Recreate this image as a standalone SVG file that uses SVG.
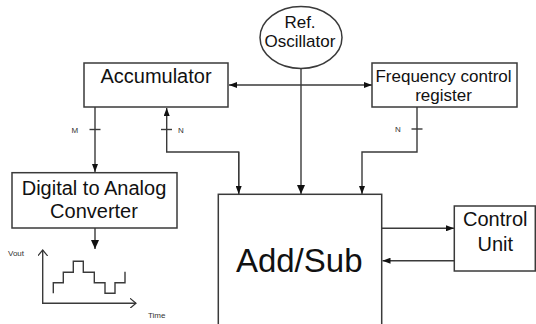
<svg xmlns="http://www.w3.org/2000/svg" width="536" height="324" viewBox="0 0 536 324">
<defs>
<marker id="ah" markerWidth="10" markerHeight="8" refX="9" refY="4" orient="auto" markerUnits="userSpaceOnUse">
<path d="M0,0 L9,4 L0,8 Z" fill="#111"/>
</marker>
<marker id="ahs" markerWidth="9" markerHeight="6" refX="8" refY="3" orient="auto" markerUnits="userSpaceOnUse">
<path d="M0,0 L8,3 L0,6 Z" fill="#111"/>
</marker>
<marker id="open" markerWidth="10" markerHeight="10" refX="6" refY="5" orient="auto" markerUnits="userSpaceOnUse">
<path d="M0,0 L6,5 L0,10" fill="none" stroke="#333" stroke-width="1.2"/>
</marker>
</defs>
<style>
.box{fill:#fff;stroke:#3a3a3a;stroke-width:1.5}
.ln{fill:none;stroke:#3a3a3a;stroke-width:1.4}
.t{font-family:"Liberation Sans",Arial,sans-serif;fill:#111;text-anchor:middle}
.s{font-family:"Liberation Sans",Arial,sans-serif;fill:#333;font-size:8px}
</style>
<rect width="536" height="324" fill="#fff"/>
<g id="connectors">
<line class="ln" x1="301" y1="85" x2="229" y2="85" marker-end="url(#ahs)"/>
<line class="ln" x1="301" y1="85" x2="372" y2="85" marker-end="url(#ahs)"/>
<line class="ln" x1="301" y1="69" x2="301" y2="194" marker-end="url(#ah)"/>
<line class="ln" x1="95" y1="107" x2="95" y2="172" marker-end="url(#ahs)"/>
<line class="ln" x1="89.5" y1="129.5" x2="100.5" y2="129.5"/>
<text class="s" x="71.5" y="132.5">M</text>
<polyline class="ln" points="238.7,194 238.7,152 166.7,152 166.7,108" marker-end="url(#ahs)"/>
<polyline class="ln" points="238.7,152 238.7,194" marker-end="url(#ahs)"/>
<line class="ln" x1="161" y1="129.5" x2="172" y2="129.5"/>
<text class="s" x="178" y="132.5">N</text>
<polyline class="ln" points="417,107 417,152 362,152 362,194" marker-end="url(#ahs)"/>
<line class="ln" x1="411.5" y1="129" x2="422.5" y2="129"/>
<text class="s" x="395" y="132">N</text>
<line class="ln" x1="382" y1="228.3" x2="454" y2="228.3" marker-end="url(#ahs)"/>
<line class="ln" x1="454" y1="260.7" x2="382.5" y2="260.7" marker-end="url(#ahs)"/>
<line class="ln" x1="95" y1="228" x2="95" y2="249" marker-end="url(#ah)"/>
</g>
<g id="oscillator">
<ellipse class="box" cx="301" cy="37.5" rx="41" ry="31"/>
<text class="t" x="300" y="27.5" font-size="17">Ref.</text>
<text class="t" x="300" y="46.7" font-size="17">Oscillator</text>
</g>
<g id="accumulator">
<rect class="box" x="84" y="63" width="144" height="44"/>
<text class="t" x="156" y="83.3" font-size="20">Accumulator</text>
</g>
<g id="fcr">
<rect class="box" x="372" y="63" width="145" height="44"/>
<text class="t" x="443.5" y="81.7" font-size="17">Frequency control</text>
<text class="t" x="443.5" y="101.3" font-size="17">register</text>
</g>
<g id="dac">
<rect class="box" x="12" y="172.7" width="165" height="55.3"/>
<text class="t" x="94" y="195" font-size="20">Digital to Analog</text>
<text class="t" x="94" y="218.3" font-size="20">Converter</text>
</g>
<g id="addsub">
<rect class="box" x="218.3" y="194.3" width="163.4" height="140"/>
<text class="t" x="299.2" y="271.7" font-size="33">Add/Sub</text>
</g>
<g id="control">
<rect class="box" x="454.3" y="206" width="81" height="65"/>
<text class="t" x="495.3" y="226" font-size="20">Control</text>
<text class="t" x="495.3" y="250.7" font-size="20">Unit</text>
</g>
<g id="graph">
<line class="ln" x1="42.7" y1="304" x2="42.7" y2="250" marker-end="url(#open)"/>
<line class="ln" x1="42" y1="303.3" x2="136" y2="303.3" marker-end="url(#open)"/>
<path class="ln" d="M53.3,293.3 V282.7 H63.3 V272.3 H73.3 V261.3 H83.3 V272.3 H94.3 V282.7 H105 V293.3 H115 V282.7 H125 V271.7"/>
<text class="s" x="8" y="256">Vout</text>
<text class="s" x="148" y="317.5">Time</text>
</g>
</svg>
